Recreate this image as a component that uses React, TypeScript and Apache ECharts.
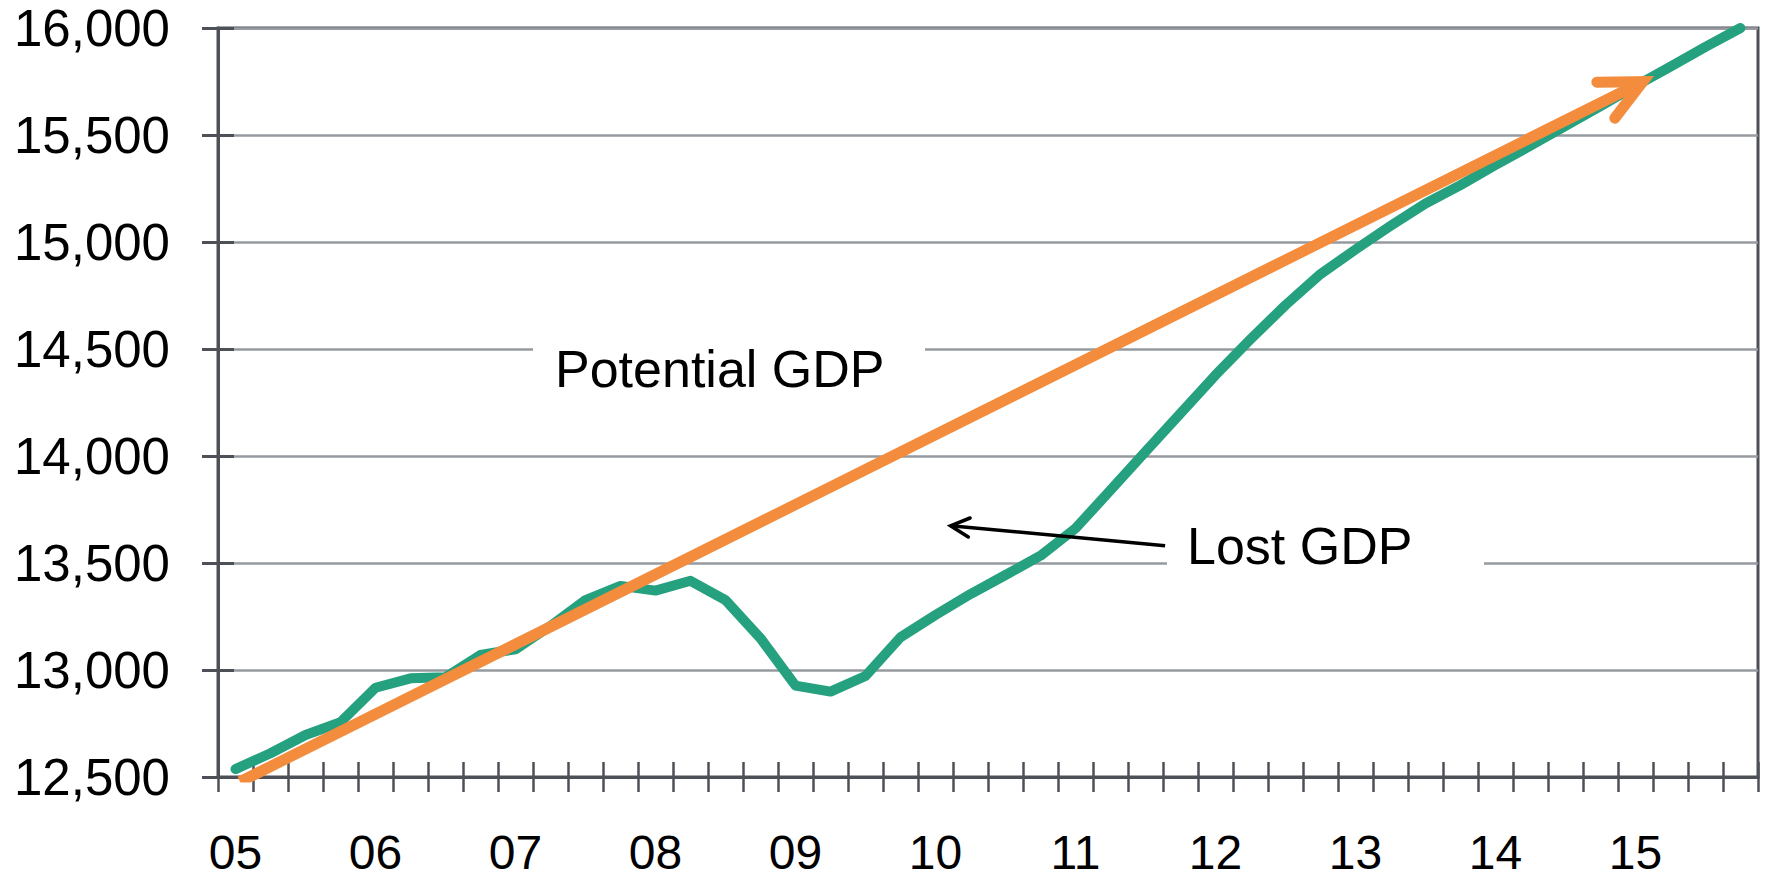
import React, { useEffect, useRef } from "react";
import * as echarts from "echarts";

// ---- Data ----
const years = ["05", "06", "07", "08", "09", "10", "11", "12", "13", "14", "15"];
const quarterNames = ["Q1", "Q2", "Q3", "Q4"];
const categories = years.flatMap((y) => quarterNames.map((q) => `${y} ${q}`));

// Real GDP (billions), quarterly 2005Q1 - 2015Q4
const realGDP = [
  12537, 12611, 12696, 12756,
  12917, 12961, 12966, 13070,
  13097, 13206, 13327, 13393,
  13371, 13417, 13327, 13148,
  12927, 12899, 12972, 13153,
  13257, 13355, 13444, 13534,
  13662, 13840, 14020, 14199,
  14378, 14545, 14705, 14850,
  14965, 15075, 15180, 15266,
  15360, 15450, 15542, 15635,
  15729, 15819, 15912, 16000,
];

// Potential GDP trend arrow (quarter position, value): start and tip
const potentialX = [0.13, 40.21];
const potentialY = [12478, 15749];

// "Lost GDP" pointer arrow: tail then tip (quarter position, value)
const lostArrowX = [26.56, 20.43];
const lostArrowY = [13581, 13674];

const yTicks = { min: 12500, max: 16000, interval: 500 };

const GREEN = "#26a17f";
const ORANGE = "#f38d3d";
const AXIS = "#4d5157";
const GRID = "#969a9f";
const FONT = "'Liberation Sans', Arial, sans-serif";

function chevron(api: any, x0: number, y0: number, x1: number, y1: number, len: number, angDeg: number) {
  const p0 = api.coord([x0, y0]);
  const p1 = api.coord([x1, y1]);
  const dx = p0[0] - p1[0];
  const dy = p0[1] - p1[1];
  const d = Math.sqrt(dx * dx + dy * dy) || 1;
  const ux = dx / d;
  const uy = dy / d;
  const a = (angDeg * Math.PI) / 180;
  const rot = (s: number) => [
    p1[0] + len * (ux * Math.cos(s * a) - uy * Math.sin(s * a)),
    p1[1] + len * (ux * Math.sin(s * a) + uy * Math.cos(s * a)),
  ];
  return { p0, p1, a1: rot(1), a2: rot(-1) };
}

export default function App() {
  const ref = useRef<HTMLDivElement>(null);

  useEffect(() => {
    if (!ref.current) return;
    const chart = echarts.init(ref.current, undefined, { renderer: "svg" });

    const option: any = {
      animation: false,
      backgroundColor: "#ffffff",
      grid: {
        left: 218,
        right: 7,
        top: 28,
        bottom: 100,
        show: true,
        borderColor: AXIS,
        borderWidth: 3,
        backgroundColor: "transparent",
      },
      xAxis: [
        {
          type: "category",
          data: categories,
          position: "bottom",
          boundaryGap: true,
          axisLine: { show: true, onZero: false, lineStyle: { color: AXIS, width: 3 } },
          axisTick: { show: true, interval: 0, length: 15, lineStyle: { color: AXIS, width: 2.5 } },
          axisLabel: {
            interval: 3,
            margin: 56,
            fontSize: 48,
            lineHeight: 38,
            color: "#000",
            fontFamily: FONT,
            formatter: (v: string) => v.slice(0, 2),
          },
          splitLine: { show: false },
        },
        {
          type: "category",
          data: categories,
          position: "bottom",
          boundaryGap: true,
          axisLine: { show: false, onZero: false },
          axisTick: { show: true, inside: true, interval: 0, length: 15, lineStyle: { color: AXIS, width: 2.5 } },
          axisLabel: { show: false },
          splitLine: { show: false },
        },
        {
          type: "value",
          min: -0.5,
          max: categories.length - 0.5,
          show: false,
          axisLine: { show: false, onZero: false },
          splitLine: { show: false },
        },
      ],
      yAxis: [
        {
          type: "value",
          min: yTicks.min,
          max: yTicks.max,
          interval: yTicks.interval,
          position: "left",
          axisLine: { show: true, onZero: false, lineStyle: { color: AXIS, width: 3 } },
          axisTick: { show: true, length: 16, lineStyle: { color: AXIS, width: 3 } },
          axisLabel: {
            margin: 48,
            fontSize: 51,
            color: "#000",
            fontFamily: FONT,
            formatter: (v: number) => v.toLocaleString("en-US"),
          },
          splitLine: { show: true, lineStyle: { color: GRID, width: 2.5 } },
        },
        {
          type: "value",
          min: yTicks.min,
          max: yTicks.max,
          interval: yTicks.interval,
          position: "left",
          offset: 0,
          axisLine: { show: false, onZero: false },
          axisTick: { show: true, inside: true, length: 16, lineStyle: { color: AXIS, width: 3 } },
          axisLabel: { show: false },
          splitLine: { show: false },
        },
      ],
      graphic: [
        { type: "rect", z: 1, shape: { x: 533, y: 322, width: 392, height: 85 }, style: { fill: "#ffffff" } },
        {
          type: "text",
          z: 10,
          x: 555,
          y: 369,
          style: { text: "Potential GDP", fontSize: 52, fontFamily: FONT, fill: "#000", verticalAlign: "middle", align: "left" },
        },
        { type: "rect", z: 1, shape: { x: 1167, y: 518, width: 317, height: 75 }, style: { fill: "#ffffff" } },
        {
          type: "text",
          z: 10,
          x: 1187,
          y: 546,
          style: { text: "Lost GDP", fontSize: 52, fontFamily: FONT, fill: "#000", verticalAlign: "middle", align: "left" },
        },
      ],
      series: [
        {
          name: "Real GDP",
          type: "line",
          xAxisIndex: 0,
          yAxisIndex: 0,
          data: realGDP,
          symbol: "none",
          z: 3,
          lineStyle: { color: GREEN, width: 10, cap: "round", join: "round" },
        },
        {
          name: "Potential GDP",
          type: "line",
          xAxisIndex: 2,
          yAxisIndex: 0,
          data: potentialX.map((x, i) => [x, potentialY[i]]),
          symbol: "none",
          z: 4,
          lineStyle: { color: ORANGE, width: 11, cap: "butt" },
        },
        {
          name: "Potential arrow head",
          type: "custom",
          coordinateSystem: "cartesian2d",
          xAxisIndex: 2,
          yAxisIndex: 0,
          z: 5,
          encode: { x: [0, 2], y: [1, 3] },
          data: [[potentialX[0], potentialY[0], potentialX[1], potentialY[1]]],
          renderItem: (params: any, api: any) => {
            const c = chevron(api, api.value(0), api.value(1), api.value(2), api.value(3), 46, 26);
            return {
              type: "polyline",
              shape: { points: [c.a1, c.p1, c.a2] },
              style: { stroke: ORANGE, lineWidth: 11, fill: "none", lineCap: "round", lineJoin: "miter" },
            };
          },
        },
        {
          name: "Lost GDP arrow",
          type: "custom",
          coordinateSystem: "cartesian2d",
          xAxisIndex: 2,
          yAxisIndex: 0,
          z: 6,
          encode: { x: [0, 2], y: [1, 3] },
          data: [[lostArrowX[0], lostArrowY[0], lostArrowX[1], lostArrowY[1]]],
          renderItem: (params: any, api: any) => {
            const c = chevron(api, api.value(0), api.value(1), api.value(2), api.value(3), 21, 27);
            return {
              type: "group",
              children: [
                {
                  type: "line",
                  shape: { x1: c.p0[0], y1: c.p0[1], x2: c.p1[0], y2: c.p1[1] },
                  style: { stroke: "#000", lineWidth: 3.5 },
                },
                {
                  type: "polyline",
                  shape: { points: [c.a1, c.p1, c.a2] },
                  style: { stroke: "#000", lineWidth: 3.5, fill: "none", lineCap: "round", lineJoin: "miter" },
                },
              ],
            };
          },
        },
      ],
    };

    chart.setOption(option);
    return () => chart.dispose();
  }, []);

  return (
    <div
      ref={ref}
      style={{ position: "absolute", left: 0, top: 0, width: 1765, height: 877, background: "#fff" }}
    />
  );
}
